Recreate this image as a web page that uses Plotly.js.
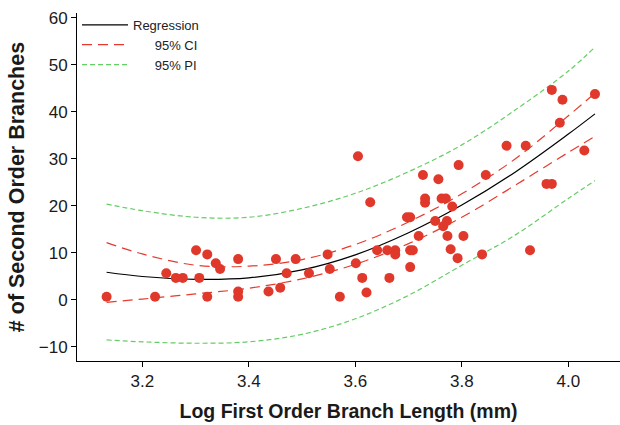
<!DOCTYPE html>
<html>
<head>
<meta charset="utf-8">
<script src="https://cdn.plot.ly/plotly-3.0.1.min.js"></script>
<style>html,body{margin:0;padding:0;background:#fff;}#chart{width:620px;height:425px;}</style>
</head>
<body>
<div id="chart"></div>
<script>
// Observed points (log first order branch length, # second order branches)
const pointX = [3.133,3.224,3.245,3.263,3.276,3.301,3.307,3.322,3.322,3.338,3.346,3.380,3.380,3.380,
  3.437,3.451,3.459,3.471,3.488,3.513,3.548,3.552,3.571,3.601,3.605,3.613,3.621,3.628,3.641,3.660,
  3.664,3.675,3.675,3.697,3.703,3.703,3.708,3.703,3.719,3.727,3.731,3.731,3.750,3.756,3.762,3.770,
  3.765,3.772,3.773,3.779,3.782,3.792,3.794,3.803,3.838,3.845,3.884,3.920,3.928,3.959,3.969,3.969,
  3.984,3.989,4.030,4.050];
const pointY = [0.7,0.7,5.7,4.7,4.7,10.6,4.7,9.7,0.7,7.8,6.6,8.7,1.8,0.7,
  1.8,8.7,2.6,5.7,8.7,5.7,9.7,6.6,0.7,7.8,30.6,4.7,1.6,20.8,10.6,10.6,
  4.7,10.6,9.7,17.6,17.6,10.6,10.6,7.0,13.6,26.6,21.6,20.7,16.8,25.7,21.6,21.6,
  15.7,16.8,13.6,10.8,19.9,8.9,28.7,13.6,9.7,26.6,32.8,32.8,10.6,24.7,24.7,44.7,
  37.7,42.6,31.8,43.8];

// Fitted curves
const curveX  = [3.133,3.2,3.3,3.4,3.5,3.6,3.7,3.8,3.9,4.0,4.05];
const regY    = [5.9,5.0,4.4,4.7,6.4,9.6,14.3,20.2,27.2,35.3,39.6];
const ciUpper = [12.2,9.8,7.4,7.2,8.6,11.8,16.6,22.6,30.0,39.2,44.0];
const ciLower = [-0.5,0.2,1.3,2.5,4.5,7.6,12.0,17.6,24.4,31.4,34.8];
const piUpper = [20.4,19.0,17.6,17.6,19.5,22.7,27.3,33.0,40.4,48.7,53.8];
const piLower = [-8.5,-8.9,-9.2,-8.9,-7.3,-4.0,1.0,7.4,13.8,21.6,25.4];

const xTicks = [3.2,3.4,3.6,3.8,4.0];
const xTickText = ['3.2','3.4','3.6','3.8','4.0'];
const yTicks = [-10,0,10,20,30,40,50,60];

const RED = '#e0392b', CI_RED = '#e53b2e', GREEN = '#66cc66';
const NB = '\u00a0';

const traces = [
  {x: curveX, y: regY, type: 'scatter', mode: 'lines', name: 'Regression',
   line: {color: '#000', width: 1.2, shape: 'spline'}, legendgroup: 'r'},
  {x: curveX, y: ciUpper, type: 'scatter', mode: 'lines', name: NB.repeat(6) + '95% CI',
   line: {color: CI_RED, width: 1.2, dash: '10px,6px', shape: 'spline'}, legendgroup: 'ci'},
  {x: curveX, y: ciLower, type: 'scatter', mode: 'lines', showlegend: false,
   line: {color: CI_RED, width: 1.2, dash: '10px,6px', shape: 'spline'}, legendgroup: 'ci'},
  {x: curveX, y: piUpper, type: 'scatter', mode: 'lines', name: NB.repeat(6) + '95% PI',
   line: {color: GREEN, width: 1.2, dash: '5px,3px', shape: 'spline'}, legendgroup: 'pi'},
  {x: curveX, y: piLower, type: 'scatter', mode: 'lines', showlegend: false,
   line: {color: GREEN, width: 1.2, dash: '5px,3px', shape: 'spline'}, legendgroup: 'pi'},
  {x: pointX, y: pointY, type: 'scatter', mode: 'markers', showlegend: false,
   marker: {color: RED, size: 10, line: {width: 0}}}
];

const layout = {
  width: 620, height: 425,
  margin: {l: 77, r: 0, t: 13, b: 64},
  paper_bgcolor: '#fff', plot_bgcolor: '#fff',
  font: {family: '"Liberation Sans", Arial, sans-serif', color: '#1a1a1a'},
  showlegend: true,
  legend: {x: 0, y: 1.009, xanchor: 'left', yanchor: 'top', bgcolor: 'rgba(0,0,0,0)',
           font: {size: 13, color: '#222'}, itemwidth: 46, tracegroupgap: 0},
  xaxis: {
    range: [3.0774, 4.097], tickvals: xTicks, ticktext: xTickText,
    showline: true, linecolor: '#000', linewidth: 1, mirror: false,
    ticks: 'outside', ticklen: 5, tickcolor: '#000', showgrid: false, zeroline: false,
    tickfont: {size: 17},
    title: {text: 'Log First Order Branch Length (mm)', font: {size: 19.5, color: '#1a1a1a'}, standoff: 13}
  },
  yaxis: {
    range: [-12.98, 61.06], tickvals: yTicks,
    showline: true, linecolor: '#000', linewidth: 1, mirror: false,
    ticks: 'outside', ticklen: 5, tickcolor: '#000', showgrid: false, zeroline: false,
    tickfont: {size: 17},
    title: {text: '# of Second Order Branches', font: {size: 21.5, color: '#1a1a1a'}, standoff: 8}
  }
};

Plotly.newPlot('chart', traces, layout, {displayModeBar: false, staticPlot: true}).then(() => {
  document.querySelectorAll('.g-xtitle text, .g-ytitle text').forEach(t => t.style.fontWeight = 'bold');
});
</script>
</body>
</html>
